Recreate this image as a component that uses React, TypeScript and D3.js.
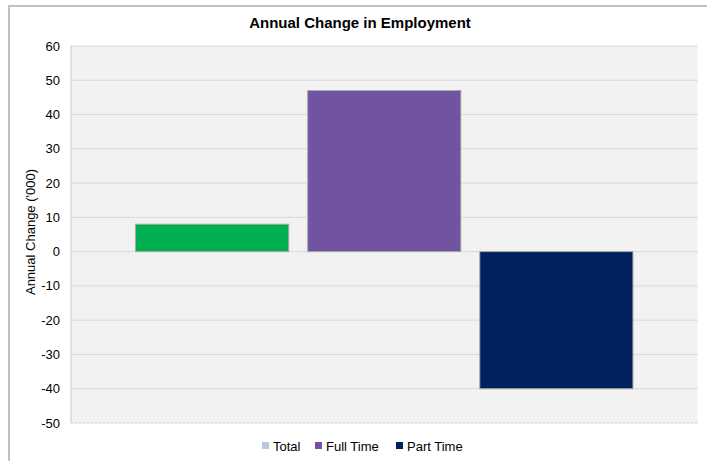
import React from "react";
import * as d3 from "d3";

const series = ["Total", "Full Time", "Part Time"];
const values = [8, 47, -40];
const barColors = ["#00b050", "#7253a1", "#002060"];
const legendColors = ["#b8c7df", "#7253a1", "#002060"];
const yTicks = [60, 50, 40, 30, 20, 10, 0, -10, -20, -30, -40, -50];
const title = "Annual Change in Employment";
const yLabel = "Annual Change ('000)";

export default function App() {
  const W = 707, H = 461;
  const left = 71, right = 697.5, top = 46, bottom = 423;
  const y = d3.scaleLinear().domain([-50, 60]).range([bottom, top]);
  const x = d3.scaleBand<string>().domain(series).range([left, right]).paddingInner(0.11).paddingOuter(0.375);
  const font = "'Liberation Sans', Arial, sans-serif";
  const legendX = [262, 315, 396];
  return (
    <svg width={W} height={H} style={{ position: "absolute", left: 0, top: 0 }} fontFamily={font}>
      <rect x={0} y={0} width={W} height={H} fill="#fff" />
      <line x1={8} x2={W} y1={6} y2={6} stroke="#bfbfbf" strokeWidth={2} />
      <line x1={9} x2={9} y1={5} y2={H} stroke="#bfbfbf" strokeWidth={2} />
      <text x={360} y={28} textAnchor="middle" fontSize={15} fontWeight="bold" fill="#000">{title}</text>
      <rect x={left} y={top} width={right - left} height={bottom - top} fill="#f2f2f2" />
      {yTicks.map((t) => (
        <g key={t}>
          <line x1={left} x2={right} y1={y(t)} y2={y(t)} stroke="#d0d0d0" strokeWidth={1} strokeDasharray="3,1" />
          <text x={60} y={y(t)} dy="0.35em" textAnchor="end" fontSize={13} fill="#000">{t}</text>
        </g>
      ))}
      <line x1={left} x2={left} y1={top} y2={bottom} stroke="#c8c8c8" strokeWidth={1} />
      {series.map((s, i) => {
        const v = values[i];
        const y0 = y(Math.max(0, v));
        const h = Math.abs(y(v) - y(0));
        return (
          <rect key={s} x={x(s)} y={y0} width={x.bandwidth()} height={h} fill={barColors[i]} stroke="#a4aaa4" strokeWidth={1} />
        );
      })}
      <text transform={`translate(35,${232}) rotate(-90)`} textAnchor="middle" fontSize={13} fill="#000">{yLabel}</text>
      {series.map((s, i) => (
        <g key={s}>
          <rect x={legendX[i]} y={442} width={7} height={7} fill={legendColors[i]} />
          <text x={legendX[i] + 11} y={446} dy="0.35em" fontSize={13} fill="#000">{s}</text>
        </g>
      ))}
    </svg>
  );
}
